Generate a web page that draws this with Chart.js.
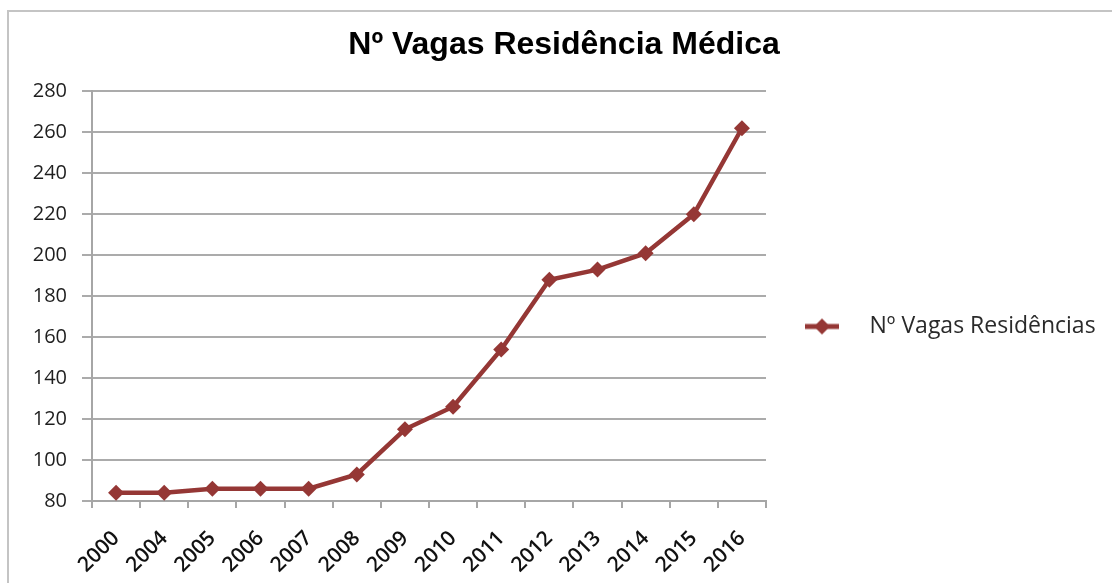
<!DOCTYPE html>
<html>
<head>
<meta charset="utf-8">
<script src="https://cdn.jsdelivr.net/npm/chart.js@4"></script>
<style>
  html, body { margin: 0; padding: 0; background: #fff; overflow: hidden; }
  #wrap { position: relative; width: 1112px; height: 583px; }
  #frame { position: absolute; left: 7px; top: 10px; width: 1200px; height: 700px; border: 2px solid #c4c4c4; }
  #vagas { position: absolute; left: 0; top: 0; }
</style>
</head>
<body>
<div id="wrap">
  <div id="frame"></div>
  <canvas id="vagas" width="1112" height="583"></canvas>
</div>
<script>
const anos = ["2000", "2004", "2005", "2006", "2007", "2008", "2009", "2010", "2011", "2012", "2013", "2014", "2015", "2016"];
const vagas = [84, 84, 86, 86, 86, 93, 115, 126, 154, 188, 193, 201, 220, 262];
const serie = "Nº Vagas Residências";
const titulo = "Nº Vagas Residência Médica";

const cor = "#953735";
const legendFont = '23px "Open Sans"';

// little symbol for the legend: line with a diamond in the middle
const simbolo = document.createElement("canvas");
simbolo.width = 72;
simbolo.height = 20;
const sctx = simbolo.getContext("2d");
sctx.strokeStyle = cor;
sctx.lineWidth = 5;
sctx.beginPath();
sctx.moveTo(19, 10);
sctx.lineTo(53, 10);
sctx.stroke();
sctx.fillStyle = cor;
sctx.beginPath();
sctx.moveTo(36, 2);
sctx.lineTo(44, 10);
sctx.lineTo(36, 18);
sctx.lineTo(28, 10);
sctx.closePath();
sctx.fill();

// work out paddings so the plot ends near x=766 and the title stays centred
const mctx = document.createElement("canvas").getContext("2d");
mctx.font = legendFont;
const textW = mctx.measureText(serie).width;
const legendW = 20 + 72 + 11.5 + textW + 10;
const padR = Math.max(346 - legendW, 0);
const padL = padR + 16;

const el = document.getElementById("vagas");

new Chart(el, {
  type: "line",
  data: {
    labels: anos,
    datasets: [
      {
        label: serie,
        data: vagas,
        borderColor: cor,
        backgroundColor: cor,
        borderWidth: 4.5,
        tension: 0,
        pointStyle: "rectRot",
        pointRadius: 8,
        pointBorderWidth: 0,
        pointBackgroundColor: cor,
      },
    ],
  },
  options: {
    responsive: false,
    animation: false,
    devicePixelRatio: 1,
    layout: {
      padding: { left: padL, right: padR, top: 8, bottom: 0 },
    },
    plugins: {
      title: {
        display: true,
        text: titulo,
        color: "#000",
        font: { family: '"Liberation Sans", Arial', size: 32, weight: "bold" },
        padding: { top: 18, bottom: 27 },
      },
      legend: {
        position: "right",
        align: "center",
        maxWidth: 400,
        title: { display: true, text: "", font: { size: 10 }, padding: { top: 25, bottom: 25 } },
        labels: {
          usePointStyle: true,
          pointStyle: simbolo,
          pointStyleWidth: 72,
          padding: 20,
          color: "#2a2a2a",
          font: { family: '"Open Sans"', size: 23 },
        },
      },
      tooltip: { enabled: false },
    },
    scales: {
      x: {
        offset: true,
        afterFit: (s) => { s.height = 82; },
        border: { color: "#a6a6a6", width: 2 },
        grid: {
          offset: true,
          drawOnChartArea: false,
          drawTicks: true,
          tickLength: 7,
          color: "#a6a6a6",
          lineWidth: 2,
        },
        ticks: {
          minRotation: 45,
          maxRotation: 45,
          padding: 18,
          color: "#111",
          font: { family: '"Open Sans"', size: 21, weight: 600 },
        },
      },
      y: {
        min: 80,
        max: 280,
        afterFit: (s) => { s.width = 92 - padL; },
        border: { color: "#a6a6a6", width: 2 },
        grid: {
          color: "#ababab",
          lineWidth: 2,
          tickLength: 10,
        },
        ticks: {
          stepSize: 20,
          padding: 15,
          color: "#1e1e1e",
          font: { family: '"Open Sans"', size: 20, weight: 500 },
        },
      },
    },
  },
});
</script>
</body>
</html>
